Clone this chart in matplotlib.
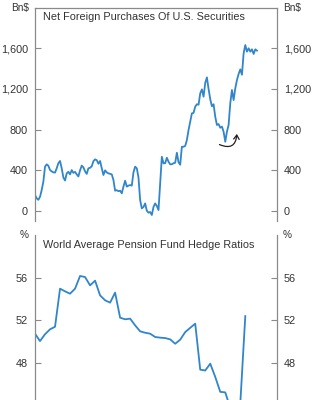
import numpy as np
from matplotlib import pyplot as plt
from matplotlib.patches import FancyArrowPatch

plt.rcParams["font.family"] = ["Liberation Sans", "DejaVu Sans"]

# monthly net foreign purchases, Bn$
purchases: list[float] = [
    157, 125, 110, 140, 206, 288, 436, 459, 445, 403,
    390, 380, 378, 420, 470, 492, 420, 330, 300, 370,
    386, 360, 403, 375, 385, 360, 340, 400, 446, 430,
    390, 365, 420, 425, 440, 490, 508, 500, 465, 492,
    420, 354, 400, 380, 370, 366, 360, 305, 200, 205,
    195, 200, 174, 240, 298, 240, 250, 255, 250, 380,
    436, 420, 330, 108, 26, 40, 75, 3, -16, -10,
    -39, 40, 75, 50, 10, 272, 534, 469, 470, 524,
    485, 459, 460, 470, 475, 573, 480, 455, 632, 632,
    640, 698, 796, 878, 960, 965, 1026, 1050, 1045, 1157,
    1196, 1124, 1260, 1314, 1200, 1100, 1030, 1050, 927, 846,
    855, 819, 830, 780, 681, 780, 846, 1059, 1190, 1091,
    1206, 1288, 1347, 1393, 1340, 1550, 1632, 1567, 1600, 1567,
    1590, 1544, 1590, 1577,
]

# quarterly hedge ratios, %
hedge: list[float] = [
    50.75, 50.06, 50.7, 51.16, 51.4, 54.97, 54.72, 54.5, 54.97, 56.16,
    56.06, 55.28, 55.72, 54.34, 53.88, 53.66, 54.6, 52.25, 52.1, 52.16,
    51.53, 50.97, 50.84, 50.75, 50.44, 50.38, 50.34, 50.22, 49.81, 50.19,
    50.9, 51.3, 51.69, 47.38, 47.3, 47.94, 46.7, 45.3, 45.25, 43.8,
    43.5, 44.2, 52.4,
]

purchase_ticks: list[int] = [0, 400, 800, 1200, 1600]
hedge_ticks: list[int] = [48, 52, 56]

top_title: str = "Net Foreign Purchases Of U.S. Securities"
bottom_title: str = "World Average Pension Fund Hedge Ratios"

line_color = "#3085cb"
spine_color = "#8a8a8a"
text_color = "#333333"
fs = 7.8

x_month = np.arange(len(purchases))
x_quarter = np.arange(len(hedge)) * 3

fig = plt.figure(figsize=(3.24, 4.0), dpi=100)
W, H = 324.0, 400.0
left, right = 35.0, 277.0
ax1 = fig.add_axes([left / W, (H - 221.2) / H, (right - left) / W, (221.2 - 7.6) / H])
ax2 = fig.add_axes([left / W, (H - 448.4) / H, (right - left) / W, (448.4 - 235.0) / H])


def style(ax, ticks, fmt, unit, top_spine):
    ax.set_xlim(0, 145)
    ax.set_xticks([])
    for side in ["left", "right"]:
        ax.spines[side].set_color(spine_color)
        ax.spines[side].set_linewidth(0.9)
    ax.spines["bottom"].set_visible(False)
    ax.spines["top"].set_visible(top_spine)
    ax.spines["top"].set_color(spine_color)
    ax.spines["top"].set_linewidth(0.9)
    ax.set_yticks(ticks)
    ax.set_yticklabels([fmt(t) for t in ticks])
    ax.tick_params(axis="y", direction="in", length=4, width=0.8, color=spine_color,
                   labelsize=fs, labelcolor=text_color, pad=5,
                   left=True, right=True, labelleft=True, labelright=True)
    ax.text(-0.025, 1.0, unit, transform=ax.transAxes, ha="right", va="center",
            fontsize=fs - 0.6, color=text_color)
    ax.text(1.025, 1.0, unit, transform=ax.transAxes, ha="left", va="center",
            fontsize=fs - 0.6, color=text_color)


ax1.plot(x_month, purchases, color=line_color, lw=1.3)
ax1.set_ylim(-100, 2000)
style(ax1, purchase_ticks, lambda v: f"{v:,}", "Bn$", True)
ax1.text(0.033, 0.955, top_title, transform=ax1.transAxes, ha="left", va="center",
         fontsize=fs, color=text_color)

arrow = FancyArrowPatch((109, 665), (121, 785), connectionstyle="arc3,rad=0.8",
                        arrowstyle="->,head_length=3,head_width=2", color="#222222",
                        lw=0.9, mutation_scale=1)
ax1.add_patch(arrow)

ax2.plot(x_quarter, hedge, color=line_color, lw=1.3)
ax2.set_ylim(40, 60)
style(ax2, hedge_ticks, lambda v: f"{v}", "%", False)
ax2.text(0.033, 0.955, bottom_title, transform=ax2.transAxes, ha="left", va="center",
         fontsize=fs, color=text_color)

fig.savefig("out.png", dpi=100)
